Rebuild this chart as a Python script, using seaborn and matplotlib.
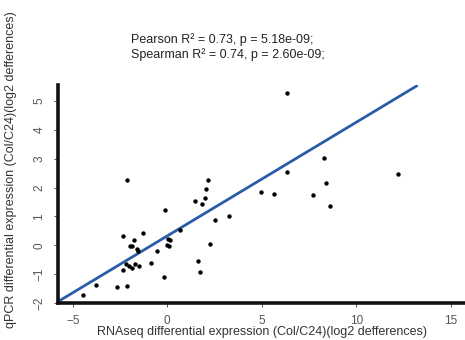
import matplotlib
matplotlib.use("Agg")
import matplotlib.pyplot as plt
import seaborn as sns
import numpy as np
import pandas as pd

# RNAseq (x) vs qPCR (y) log2 differences
rnaseq = [-2.15, 2.15, 2.06, 1.98, 1.45, 1.84, -0.11, 3.26, 2.51, 0.69,
          -1.27, -2.33, 0.05, 0.14, -1.78, -1.99, -1.88, -1.59, -1.57, 0.00,
          0.11, -0.53, 2.28, -2.17, -1.72, -0.86, -2.01, -1.87, -1.50, -2.33,
          1.62, 1.75, -0.16, -3.79, -2.66, -2.12, -4.48, 6.32, 8.31, 6.32,
          12.19, 8.38, 4.94, 5.65, 7.69, 8.62]
qpcr = [2.26, 2.27, 1.94, 1.64, 1.53, 1.43, 1.22, 1.02, 0.89, 0.54,
        0.42, 0.34, 0.22, 0.20, 0.19, -0.02, -0.02, -0.12, -0.18, 0.02,
        -0.04, -0.21, 0.03, -0.66, -0.64, -0.61, -0.73, -0.77, -0.70, -0.84,
        -0.53, -0.91, -1.10, -1.39, -1.46, -1.41, -1.71, 5.27, 3.02, 2.56,
        2.47, 2.16, 1.84, 1.77, 1.75, 1.35]

fit_x = [-5.8, 13.2]
fit_y = [-1.96, 5.53]

x_ticks = [-5, 0, 5, 10, 15]
y_ticks = [-2, -1, 0, 1, 2, 3, 4, 5]

title_lines = ["Pearson R\u00b2 = 0.73, p = 5.18e-09;",
               "Spearman R\u00b2 = 0.74, p = 2.60e-09;"]
xlabel = "RNAseq differential expression (Col/C24)(log2 defferences)"
ylabel = "qPCR differential expression (Col/C24)(log2 defferences)"

sns.set_theme(style="white")
plt.rcParams['font.family'] = ['Liberation Sans', 'DejaVu Sans']

W, H = 465, 340
fig = plt.figure(figsize=(W / 100, H / 100), dpi=100)
ax = fig.add_axes([58 / W, (H - 303) / H, 1 - 58 / W, (303 - 85) / H])

df = pd.DataFrame({"rnaseq": rnaseq, "qpcr": qpcr})
sns.lineplot(x=fit_x, y=fit_y, ax=ax, color="#2b5ca8", linewidth=2.0, zorder=2)
sns.scatterplot(data=df, x="rnaseq", y="qpcr", ax=ax, color="black", s=10,
                linewidth=0, zorder=3)

ax.set_xlim(-5.78, 15.75)
ax.set_ylim(-1.95, 5.56)
ax.set_xticks(x_ticks)
ax.set_yticks(y_ticks)
ax.set_xticklabels([str(v).replace("-", "\u2212") for v in x_ticks])
ax.set_yticklabels([str(v).replace("-", "\u2212") for v in y_ticks],
                   rotation=90, va="center")
ax.set_xlabel("")
ax.set_ylabel("")

for side in ["top", "right"]:
    ax.spines[side].set_visible(False)
for side in ["left", "bottom"]:
    ax.spines[side].set_visible(True)
    ax.spines[side].set_color("#111111")
    ax.spines[side].set_linewidth(2.6)

ax.tick_params(axis="both", which="major", direction="out", length=3,
               width=0.7, color="#555555", labelsize=8.5, labelcolor="#555555",
               bottom=True, left=True, pad=6)
ax.grid(False)

fig.text(131 / W, 1 - 40 / H, title_lines[0], fontsize=9, color="#222222",
         ha="left", va="center")
fig.text(131 / W, 1 - 55 / H, title_lines[1], fontsize=9, color="#222222",
         ha="left", va="center")
fig.text(262 / W, 1 - 332 / H, xlabel, fontsize=9, color="#333333",
         ha="center", va="center")
fig.text(11 / W, 1 - 170 / H, ylabel, fontsize=9, color="#333333",
         ha="center", va="center", rotation=90)

fig.savefig("out.png", dpi=100, facecolor="white")
